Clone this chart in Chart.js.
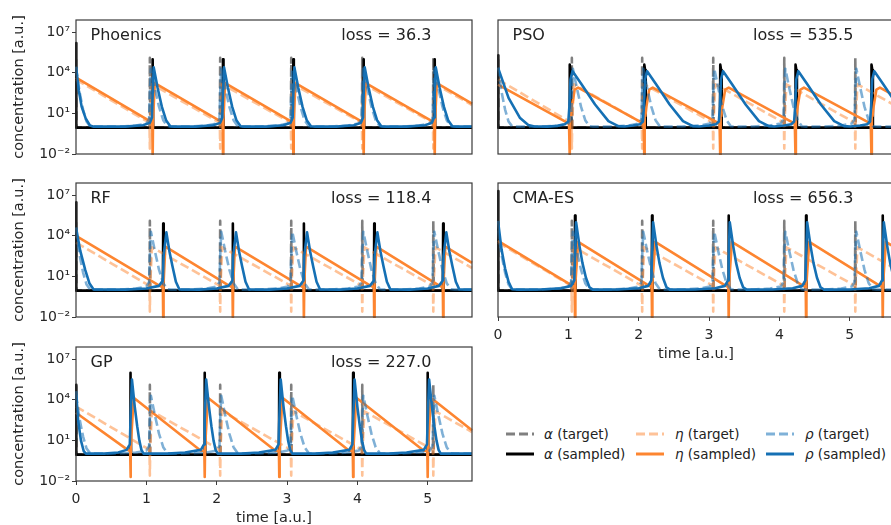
<!DOCTYPE html>
<html>
<head>
<meta charset="utf-8">
<script src="https://cdn.jsdelivr.net/npm/chart.js@4.4.1/dist/chart.umd.min.js"></script>
<style>
  html, body { margin: 0; padding: 0; background: #fff; }
  body { width: 891px; height: 525px; overflow: hidden; position: relative; font-family: 'DejaVu Sans', sans-serif; color: #222; }
  canvas { position: absolute; }
  .lbl { position: absolute; font-size: 16px; line-height: 20px; white-space: nowrap; }
  .loss { text-align: right; width: 300px; }
  .leg { position: absolute; font-size: 13.5px; line-height: 16px; white-space: nowrap; }
  svg { position: absolute; }
</style>
</head>
<body>
<script>
// all curves are [time, log10(concentration)] pairs

const methods = ['Phoenics', 'PSO', 'RF', 'CMA-ES', 'GP']
const lossValues = [36.3, 535.5, 118.4, 656.3, 227.0]
const xTicks = [0, 1, 2, 3, 4, 5]
const yTicks = [1e-2, 1e1, 1e4, 1e7]
const yTickLabels = ['10⁻²', '10¹', '10⁴', '10⁷']

// target (same in every panel)
const alphaTarget = [[0,5.0],[0.004,-0.05],[1.045,-0.05],[1.05,5.1],[1.056,-0.05],[2.045,-0.05],[2.05,5.1],[2.056,-0.05],[3.055,-0.05],[3.06,5.1],[3.066,-0.05],[4.065,-0.05],[4.07,5.1],[4.076,-0.05],[5.075,-0.05],[5.08,5.1],[5.086,-0.05],[5.63,-0.05]]
const etaTarget = [[0,3.5],[1.03,0.35],[1.045,0.2],[1.05,-1.6],[1.055,0.4],[1.08,3.15],[2.03,0.35],[2.045,0.2],[2.05,-1.6],[2.055,0.4],[2.08,3.15],[3.04,0.35],[3.055,0.2],[3.06,-1.6],[3.065,0.4],[3.09,3.15],[4.05,0.35],[4.065,0.2],[4.07,-1.6],[4.075,0.4],[4.1,3.15],[5.06,0.35],[5.075,0.2],[5.08,-1.6],[5.085,0.4],[5.11,3.15],[5.63,1.62]]
const rhoTarget = [[0,4.4],[0.05,2.6],[0.1,1.3],[0.15,0.4],[0.2,0.05],[0.25,0.02],[0.6,0.03],[0.85,0.1],[1.0,0.25],[1.04,0.6],[1.05,2.5],[1.065,4.3],[1.12,2.9],[1.18,1.5],[1.24,0.5],[1.3,0.05],[1.35,0.02],
  [1.6,0.03],[1.85,0.1],[2.0,0.25],[2.04,0.6],[2.05,2.5],[2.065,4.3],[2.12,2.9],[2.18,1.5],[2.24,0.5],[2.3,0.05],[2.35,0.02],
  [2.61,0.03],[2.86,0.1],[3.01,0.25],[3.05,0.6],[3.06,2.5],[3.075,4.3],[3.13,2.9],[3.19,1.5],[3.25,0.5],[3.31,0.05],[3.36,0.02],
  [3.62,0.03],[3.87,0.1],[4.02,0.25],[4.06,0.6],[4.07,2.5],[4.085,4.3],[4.14,2.9],[4.2,1.5],[4.26,0.5],[4.32,0.05],[4.37,0.02],
  [4.63,0.03],[4.88,0.1],[5.03,0.25],[5.07,0.6],[5.08,2.5],[5.095,4.3],[5.15,2.9],[5.21,1.5],[5.27,0.5],[5.33,0.05],[5.38,0.02],[5.63,0.02]]

// Phoenics
const phoenicsAlpha = [[0,6.2],[0.004,-0.05],[1.085,-0.05],[1.09,5.0],[1.097,-0.05],[2.085,-0.05],[2.09,5.0],[2.097,-0.05],[3.085,-0.05],[3.09,5.0],[3.097,-0.05],[4.085,-0.05],[4.09,5.0],[4.097,-0.05],[5.095,-0.05],[5.1,5.0],[5.107,-0.05],[5.63,-0.05]]
const phoenicsEta = [[0,3.65],[1.075,0.35],[1.085,0.2],[1.09,-2.3],[1.095,0.5],[1.12,3.24],[2.075,0.35],[2.085,0.2],[2.09,-2.3],[2.095,0.5],[2.12,3.24],[3.075,0.35],[3.085,0.2],[3.09,-2.3],[3.095,0.5],[3.12,3.24],[4.075,0.35],[4.085,0.2],[4.09,-2.3],[4.095,0.5],[4.12,3.24],[5.085,0.35],[5.095,0.2],[5.1,-2.3],[5.105,0.5],[5.13,3.24],[5.63,1.73]]
const phoenicsRho = [[0,4.46],[0.04,2.7],[0.08,1.5],[0.14,0.6],[0.2,0.1],[0.25,0.02],[0.7,0.02],[0.95,0.12],[1.05,0.3],[1.08,0.7],[1.09,2.5],[1.105,4.4],[1.16,2.9],[1.22,1.5],[1.28,0.5],[1.34,0.05],[1.4,0.02],
  [1.7,0.02],[1.95,0.12],[2.05,0.3],[2.08,0.7],[2.09,2.5],[2.105,4.4],[2.16,2.9],[2.22,1.5],[2.28,0.5],[2.34,0.05],[2.4,0.02],
  [2.7,0.02],[2.95,0.12],[3.05,0.3],[3.08,0.7],[3.09,2.5],[3.105,4.4],[3.16,2.9],[3.22,1.5],[3.28,0.5],[3.34,0.05],[3.4,0.02],
  [3.7,0.02],[3.95,0.12],[4.05,0.3],[4.08,0.7],[4.09,2.5],[4.105,4.4],[4.16,2.9],[4.22,1.5],[4.28,0.5],[4.34,0.05],[4.4,0.02],
  [4.7,0.02],[4.96,0.12],[5.06,0.3],[5.09,0.7],[5.1,2.5],[5.115,4.4],[5.17,2.9],[5.23,1.5],[5.29,0.5],[5.35,0.05],[5.41,0.02],[5.63,0.02]]

// PSO
const psoAlpha = [[0,5.3],[0.004,-0.05],[1.015,-0.05],[1.02,4.6],[1.032,4.2],[1.04,-0.05],[2.075,-0.05],[2.08,4.6],[2.092,4.2],[2.1,-0.05],[3.155,-0.05],[3.16,4.6],[3.172,4.2],[3.18,-0.05],[4.225,-0.05],[4.23,4.6],[4.242,4.2],[4.25,-0.05],[5.305,-0.05],[5.31,4.6],[5.322,4.2],[5.33,-0.05],[5.63,-0.05]]
const psoEta = [[0,3.13],[0.99,0.3],[1.01,0.2],[1.02,-2.3],[1.025,1.2],[1.035,0.8],[1.05,1.5],[1.09,2.76],[1.14,2.9],
  [2.05,0.3],[2.07,0.2],[2.08,-2.3],[2.085,1.2],[2.095,0.8],[2.11,1.5],[2.15,2.76],[2.2,2.9],
  [3.13,0.3],[3.15,0.2],[3.16,-2.3],[3.165,1.2],[3.175,0.8],[3.19,1.5],[3.23,2.76],[3.28,2.9],
  [4.2,0.3],[4.22,0.2],[4.23,-2.3],[4.235,1.2],[4.245,0.8],[4.26,1.5],[4.3,2.76],[4.35,2.9],
  [5.28,0.3],[5.3,0.2],[5.31,-2.3],[5.315,1.2],[5.325,0.8],[5.34,1.5],[5.38,2.76],[5.43,2.9],[5.63,2.33]]
const psoRho = [[0,4.37],[0.15,2.15],[0.31,0.68],[0.43,0.14],[0.52,0.03],[0.7,0.02],[0.85,0.08],[0.95,0.2],[1.0,0.4],[1.015,1.5],[1.03,3.5],[1.06,4.12],[1.19,3.13],[1.38,1.66],[1.57,0.43],[1.71,0.06],
  [1.8,0.03],[1.92,0.1],[2.02,0.2],[2.06,0.4],[2.075,1.5],[2.09,3.5],[2.12,4.12],[2.25,3.13],[2.44,1.66],[2.63,0.43],[2.77,0.06],
  [2.86,0.03],[3.0,0.1],[3.1,0.2],[3.14,0.4],[3.155,1.5],[3.17,3.5],[3.2,4.12],[3.33,3.13],[3.52,1.66],[3.71,0.43],[3.85,0.06],
  [3.93,0.03],[4.07,0.1],[4.17,0.2],[4.21,0.4],[4.225,1.5],[4.24,3.5],[4.27,4.12],[4.4,3.13],[4.59,1.66],[4.78,0.43],[4.92,0.06],
  [5.01,0.03],[5.15,0.1],[5.25,0.2],[5.29,0.4],[5.305,1.5],[5.32,3.5],[5.35,4.12],[5.48,3.13],[5.67,1.66]]

// RF
const rfAlpha = [[0,6.47],[0.004,-0.05],[1.235,-0.05],[1.24,4.9],[1.247,-0.05],[2.225,-0.05],[2.23,4.9],[2.237,-0.05],[3.235,-0.05],[3.24,4.9],[3.247,-0.05],[4.235,-0.05],[4.24,4.9],[4.247,-0.05],[5.215,-0.05],[5.22,4.9],[5.227,-0.05],[5.63,-0.05]]
const rfEta = [[0,4.0],[1.19,0.3],[1.235,0.2],[1.24,-2.3],[1.245,0.5],[1.27,3.2],[2.18,0.3],[2.225,0.2],[2.23,-2.3],[2.235,0.5],[2.26,3.2],[3.19,0.3],[3.235,0.2],[3.24,-2.3],[3.245,0.5],[3.27,3.2],[4.19,0.3],[4.235,0.2],[4.24,-2.3],[4.245,0.5],[4.27,3.2],[5.17,0.3],[5.215,0.2],[5.22,-2.3],[5.225,0.5],[5.25,3.2],[5.63,2.0]]
const rfRho = [[0,4.62],[0.06,2.9],[0.13,1.5],[0.19,0.5],[0.25,0.03],[0.7,0.02],[1.0,0.1],[1.18,0.3],[1.235,0.7],[1.245,2.5],[1.285,4.25],[1.33,2.8],[1.37,1.78],[1.42,0.6],[1.47,0.03],
  [1.75,0.02],[2.0,0.1],[2.17,0.3],[2.225,0.7],[2.235,2.5],[2.275,4.25],[2.32,2.8],[2.36,1.78],[2.41,0.6],[2.46,0.03],
  [2.75,0.02],[3.0,0.1],[3.18,0.3],[3.235,0.7],[3.245,2.5],[3.285,4.25],[3.33,2.8],[3.37,1.78],[3.42,0.6],[3.47,0.03],
  [3.75,0.02],[4.0,0.1],[4.18,0.3],[4.235,0.7],[4.245,2.5],[4.285,4.25],[4.33,2.8],[4.37,1.78],[4.42,0.6],[4.47,0.03],
  [4.75,0.02],[5.0,0.1],[5.16,0.3],[5.215,0.7],[5.225,2.5],[5.265,4.25],[5.31,2.8],[5.35,1.78],[5.4,0.6],[5.45,0.03],[5.63,0.02]]

// CMA-ES
const cmaAlpha = [[0,7.3],[0.004,-0.05],[1.09,-0.05],[1.095,5.5],[1.102,-0.05],[2.185,-0.05],[2.19,5.5],[2.197,-0.05],[3.275,-0.05],[3.28,5.5],[3.287,-0.05],[4.375,-0.05],[4.38,5.5],[4.387,-0.05],[5.465,-0.05],[5.47,5.5],[5.477,-0.05],[5.63,-0.05]]
const cmaEta = [[0,3.63],[1.06,0.3],[1.09,0.2],[1.095,-2.3],[1.1,0.5],[1.14,3.55],[2.15,0.3],[2.185,0.2],[2.19,-2.3],[2.195,0.5],[2.235,3.55],[3.24,0.3],[3.275,0.2],[3.28,-2.3],[3.285,0.5],[3.325,3.55],[4.34,0.3],[4.375,0.2],[4.38,-2.3],[4.385,0.5],[4.425,3.55],[5.43,0.3],[5.465,0.2],[5.47,-2.3],[5.475,0.5],[5.515,3.55],[5.63,3.18]]
const cmaRho = [[0,5.1],[0.05,3.0],[0.1,1.6],[0.15,0.6],[0.2,0.05],[0.3,0.02],[0.6,0.03],[0.9,0.12],[1.04,0.3],[1.085,0.7],[1.095,2.5],[1.11,5.0],[1.16,3.2],[1.2,2.0],[1.25,0.9],[1.3,0.2],[1.35,0.02],
  [1.7,0.03],[2.0,0.12],[2.135,0.3],[2.18,0.7],[2.19,2.5],[2.205,5.0],[2.255,3.2],[2.295,2.0],[2.345,0.9],[2.395,0.2],[2.445,0.02],
  [2.8,0.03],[3.09,0.12],[3.225,0.3],[3.27,0.7],[3.28,2.5],[3.295,5.0],[3.345,3.2],[3.385,2.0],[3.435,0.9],[3.485,0.2],[3.535,0.02],
  [3.9,0.03],[4.19,0.12],[4.325,0.3],[4.37,0.7],[4.38,2.5],[4.395,5.0],[4.445,3.2],[4.485,2.0],[4.535,0.9],[4.585,0.2],[4.635,0.02],
  [5.0,0.03],[5.28,0.12],[5.415,0.3],[5.46,0.7],[5.47,2.5],[5.485,5.0],[5.535,3.2],[5.575,2.0],[5.625,0.9]]

// GP
const gpAlpha = [[0,5.1],[0.004,-0.05],[0.77,-0.05],[0.775,6.0],[0.783,-0.05],[1.825,-0.05],[1.83,6.0],[1.838,-0.05],[2.885,-0.05],[2.89,6.0],[2.898,-0.05],[3.935,-0.05],[3.94,6.0],[3.948,-0.05],[4.995,-0.05],[5.0,6.0],[5.008,-0.05],[5.63,-0.05]]
const gpEta = [[0,3.04],[0.73,0.32],[0.77,0.2],[0.775,-1.7],[0.78,0.5],[0.82,4.15],[1.77,0.25],[1.825,0.2],[1.83,-1.7],[1.835,0.5],[1.875,4.15],[2.83,0.25],[2.885,0.2],[2.89,-1.7],[2.895,0.5],[2.935,4.15],[3.88,0.25],[3.935,0.2],[3.94,-1.7],[3.945,0.5],[3.985,4.15],[4.94,0.25],[4.995,0.2],[5.0,-1.7],[5.005,0.5],[5.045,4.15],[5.63,1.75]]
const gpRho = [[0,4.64],[0.03,2.5],[0.07,1.0],[0.11,0.2],[0.14,0.02],[0.4,0.02],[0.6,0.1],[0.72,0.3],[0.765,0.7],[0.775,2.5],[0.795,5.5],[0.835,3.5],[0.87,2.05],[0.9,1.0],[0.93,0.3],[0.96,0.02],
  [1.3,0.02],[1.55,0.1],[1.775,0.3],[1.82,0.7],[1.83,2.5],[1.85,5.5],[1.89,3.5],[1.925,2.05],[1.955,1.0],[1.985,0.3],[2.015,0.02],
  [2.35,0.02],[2.6,0.1],[2.835,0.3],[2.88,0.7],[2.89,2.5],[2.91,5.5],[2.95,3.5],[2.985,2.05],[3.015,1.0],[3.045,0.3],[3.075,0.02],
  [3.4,0.02],[3.65,0.1],[3.885,0.3],[3.93,0.7],[3.94,2.5],[3.96,5.5],[4.0,3.5],[4.035,2.05],[4.065,1.0],[4.095,0.3],[4.125,0.02],
  [4.45,0.02],[4.7,0.1],[4.945,0.3],[4.99,0.7],[5.0,2.5],[5.02,5.5],[5.06,3.5],[5.095,2.05],[5.125,1.0],[5.155,0.3],[5.185,0.02],[5.63,0.02]]

const sampled = [
  [phoenicsAlpha, phoenicsEta, phoenicsRho],
  [psoAlpha, psoEta, psoRho],
  [rfAlpha, rfEta, rfRho],
  [cmaAlpha, cmaEta, cmaRho],
  [gpAlpha, gpEta, gpRho]
]

const font = "'DejaVu Sans'"
const ink = '#262626'
const colors = {
  alpha: '#000000', alphaT: 'rgba(0,0,0,0.5)',
  eta: '#fd8530', etaT: 'rgba(253,133,48,0.5)',
  rho: '#1570b4', rhoT: 'rgba(21,112,180,0.55)'
}

// layout: grid position of each panel
const layout = [
  { col: 0, top: 20, xAxis: false },
  { col: 1, top: 20, xAxis: false },
  { col: 0, top: 183, xAxis: false },
  { col: 1, top: 183, xAxis: true },
  { col: 0, top: 347, xAxis: true }
]
const plotH = 134
const plotLeft = [76, 498]

const framePlugin = {
  id: 'frame',
  afterDraw(chart) {
    const { ctx, chartArea: a } = chart
    ctx.save()
    ctx.strokeStyle = '#3a3a3a'
    ctx.lineWidth = 1.2
    ctx.strokeRect(a.left, a.top, a.right - a.left, a.bottom - a.top)
    ctx.restore()
  }
}

function line(points, color, dashed) {
  return {
    data: points.map(p => ({ x: p[0], y: Math.pow(10, p[1]) })),
    borderColor: color,
    borderWidth: 2.6,
    borderDash: dashed ? [9, 4] : [],
    borderJoinStyle: 'round',
    pointRadius: 0,
    tension: 0,
    fill: false,
    clip: 1
  }
}

function makePanel(i) {
  const L = layout[i]
  const isLeft = L.col === 0
  const xH = L.xAxis ? 46 : 0
  const yW = isLeft ? 76 : 0
  const cv = document.createElement('canvas')
  cv.width = isLeft ? 476 : 410
  cv.height = 6 + plotH + (L.xAxis ? 46 : 4)
  cv.style.left = (isLeft ? 0 : 488) + 'px'
  cv.style.top = (L.top - 6) + 'px'
  document.body.appendChild(cv)

  const [a, e, r] = sampled[i]
  // first dataset is drawn on top
  const datasets = [
    line(r, colors.rho, false),
    line(rhoTarget, colors.rhoT, true),
    line(e, colors.eta, false),
    line(etaTarget, colors.etaT, true),
    line(a, colors.alpha, false),
    line(alphaTarget, colors.alphaT, true)
  ]

  new Chart(cv, {
    type: 'line',
    data: { datasets: datasets },
    options: {
      responsive: false,
      maintainAspectRatio: false,
      animation: false,
      events: [],
      layout: { padding: { top: 6, right: 4, left: isLeft ? 0 : 10, bottom: L.xAxis ? 0 : 4 } },
      plugins: { legend: { display: false }, tooltip: { enabled: false } },
      scales: {
        x: {
          type: 'linear', min: 0, max: 5.63,
          display: L.xAxis,
          afterBuildTicks: s => { s.ticks = xTicks.map(v => ({ value: v })) },
          afterFit: s => { s.height = xH; s.paddingLeft = 0; s.paddingRight = 0 },
          border: { display: false },
          grid: { display: true, drawOnChartArea: false, drawTicks: true, tickLength: 4, color: '#3a3a3a' },
          ticks: { callback: v => String(v), font: { family: font, size: 14 }, color: ink, padding: 6, maxRotation: 0 },
          title: { display: true, text: 'time [a.u.]', font: { family: font, size: 14.5 }, color: ink, padding: { top: 0, bottom: 0 } }
        },
        y: {
          type: 'logarithmic', min: 1e-2, max: Math.pow(10, 7.9),
          display: isLeft,
          afterBuildTicks: s => { s.ticks = yTicks.map(v => ({ value: v })) },
          afterFit: s => { s.width = yW; s.paddingTop = 0; s.paddingBottom = 0 },
          border: { display: false },
          grid: { display: true, drawOnChartArea: false, drawTicks: true, tickLength: 4, color: '#3a3a3a' },
          ticks: { callback: (v, k) => yTickLabels[k], font: { family: font, size: 14 }, color: ink, padding: 2 },
          title: { display: true, text: 'concentration [a.u.]', font: { family: font, size: 14.5 }, color: ink, padding: { top: 11, bottom: 0 } }
        }
      }
    },
    plugins: [framePlugin]
  })

  const x0 = plotLeft[L.col]
  const name = document.createElement('div')
  name.className = 'lbl'
  name.style.left = (x0 + 14.5) + 'px'
  name.style.top = (L.top + 5) + 'px'
  name.textContent = methods[i]
  document.body.appendChild(name)

  const loss = document.createElement('div')
  loss.className = 'lbl loss'
  loss.style.left = (x0 + 55.4) + 'px'
  loss.style.top = (L.top + 5) + 'px'
  loss.textContent = 'loss = ' + lossValues[i].toFixed(1)
  document.body.appendChild(loss)
}

for (let i = 0; i < methods.length; i++) makePanel(i)

// legend, 3 columns x 2 rows
const legendItems = [
  { sym: 'α', kind: 'target', color: '#808080', dash: true, col: 0, row: 0 },
  { sym: 'η', kind: 'target', color: '#fec298', dash: true, col: 1, row: 0 },
  { sym: 'ρ', kind: 'target', color: '#7fb1d8', dash: true, col: 2, row: 0 },
  { sym: 'α', kind: 'sampled', color: colors.alpha, dash: false, col: 0, row: 1 },
  { sym: 'η', kind: 'sampled', color: colors.eta, dash: false, col: 1, row: 1 },
  { sym: 'ρ', kind: 'sampled', color: colors.rho, dash: false, col: 2, row: 1 }
]
const legLineX = [506, 636, 766]
const legTextX = [544, 675, 805]
const legRowY = [433.5, 453.5]

legendItems.forEach(it => {
  const y = legRowY[it.row]
  const svg = document.createElementNS('http://www.w3.org/2000/svg', 'svg')
  svg.setAttribute('width', 28)
  svg.setAttribute('height', 8)
  svg.style.left = legLineX[it.col] + 'px'
  svg.style.top = (y - 4) + 'px'
  const ln = document.createElementNS('http://www.w3.org/2000/svg', 'line')
  ln.setAttribute('x1', 0); ln.setAttribute('x2', 28)
  ln.setAttribute('y1', 4); ln.setAttribute('y2', 4)
  ln.setAttribute('stroke', it.color)
  ln.setAttribute('stroke-width', 3)
  if (it.dash) ln.setAttribute('stroke-dasharray', '9 4')
  svg.appendChild(ln)
  document.body.appendChild(svg)

  const t = document.createElement('div')
  t.className = 'leg'
  t.style.left = legTextX[it.col] + 'px'
  t.style.top = (y - 8) + 'px'
  t.innerHTML = '<i>' + it.sym + '</i> (' + it.kind + ')'
  document.body.appendChild(t)
})
</script>
</body>
</html>
